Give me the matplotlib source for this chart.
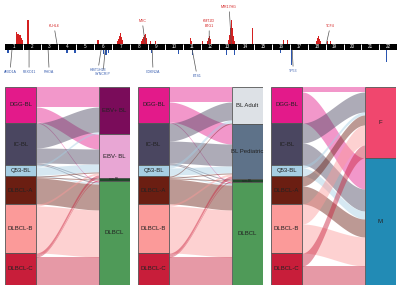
import numpy as np
import matplotlib.pyplot as plt

plt.rcParams['font.family'] = ['Liberation Sans', 'DejaVu Sans']

# ---- copy number profile (genome position in chromosome units, frequency) ----
chroms = [str(i) for i in range(1, 23)]
gain_pos = [0.62, 0.67, 0.73, 0.79, 0.84, 0.90, 0.96, 1.24, 1.29, 5.22,
            6.29, 6.35, 6.40, 6.46, 6.52, 6.57,
            7.64, 7.70, 7.75, 7.81, 7.87, 7.92, 8.15, 8.43,
            10.39, 10.45, 11.07, 11.35, 11.40, 11.46, 11.52,
            12.53, 12.58, 12.64, 12.70, 12.75, 12.81, 12.87,
            13.88, 15.62, 15.84, 17.47, 17.53, 17.58, 17.64, 17.70, 18.09, 18.26]
gain_freq = [8, 12, 10, 7, 9, 6, 4, 8, 24, 4,
             3, 5, 8, 11, 7, 4,
             3, 5, 7, 9, 10, 6, 3, 3,
             6, 3, 3, 3, 6, 8, 5,
             4, 9, 16, 24, 16, 8, 3,
             16, 4, 4, 3, 6, 8, 5, 3, 3, 3]
loss_pos = [0.17, 3.48, 3.93, 5.51, 5.67, 5.79, 8.20, 9.72, 10.51,
            12.42, 12.87, 15.45, 16.07, 21.40]
loss_freq = [3, 3, 3, 4, 5, 3, 3, 4, 5, 5, 5, 3, 15, 12]

gene_names = ["ARID1A", "FBXO11", "RHOA", "KLHL6", "HIST1H1E", "SYNCRIP", "MYC",
              "CDKN2A", "ETS1", "KMT2D\nBTG1", "MIR17HG", "TP53", "TCF4"]
gene_pos = [0.39, 1.35, 2.42, 2.92, 5.39, 5.62, 7.87, 8.26, 10.51, 11.46, 12.70, 16.12, 18.03]
gene_side = ["loss", "loss", "loss", "gain", "loss", "loss", "gain",
             "loss", "loss", "gain", "gain", "loss", "gain"]
label_pos = [0.28, 1.35, 2.48, 2.75, 5.22, 5.50, 7.70, 8.31, 10.78, 11.46, 12.58, 16.18, 18.26]
label_y = [-23, -23, -23, 19, -21, -25, 24, -23, -27, 19, 38, -22, 19]

# ---- alluvial data ----
subtypes = ["DGG-BL", "IC-BL", "Q53-BL", "DLBCL-A", "DLBCL-B", "DLBCL-C"]
subtype_colors = ["#e31a8a", "#4a4660", "#a6cee3", "#6b1e12", "#fb9a99", "#c81e3a"]

ebv_names = ["EBV+ BL", "EBV- BL", "non-BL", "DLBCL"]
ebv_colors = ["#7a0c5a", "#e8a6d4", "#1f4a2a", "#4f9a58"]
ebv_counts = [[20, 15, 0, 1],
              [25, 15, 1, 1],
              [2, 8, 0, 1],
              [0, 1, 1, 26],
              [0, 2, 0, 47],
              [0, 3, 1, 28]]

age_names = ["BL Adult", "BL Pediatric", "non-BL", "DLBCL"]
age_colors = ["#dde1e6", "#5e7289", "#1f4a2a", "#4f9a58"]
age_counts = [[15, 20, 0, 1],
              [18, 22, 1, 1],
              [3, 7, 0, 1],
              [1, 1, 1, 25],
              [0, 2, 0, 47],
              [0, 3, 1, 28]]

sex_names = ["F", "M"]
sex_colors = ["#f0476e", "#228bb5"]
sex_counts = [[5, 31],
              [20, 22],
              [3, 8],
              [10, 18],
              [20, 29],
              [13, 19]]


def alluvial(ax, left_names, left_colors, right_names, right_colors, counts):
    counts = np.array(counts)
    bw = 0.25
    left_tot = counts.sum(axis=1)
    right_tot = counts.sum(axis=0)
    left_top = np.concatenate([[0], np.cumsum(left_tot)[:-1]])
    right_top = np.concatenate([[0], np.cumsum(right_tot)[:-1]])

    xs = np.linspace(bw, 1 - bw, 60)
    t = (xs - bw) / (1 - 2 * bw)
    s = t * t * (3 - 2 * t)

    right_off = right_top.astype(float).copy()
    for i in range(len(left_names)):
        off = left_top[i]
        for j in range(len(right_names)):
            c = counts[i, j]
            if c == 0:
                continue
            ro = right_off[j]
            y1 = off + (ro - off) * s
            y2 = y1 + c
            ax.fill_between(xs, y1, y2, color=left_colors[i], alpha=0.45, lw=0)
            off += c
            right_off[j] += c

    ax.bar([bw / 2] * len(left_names), left_tot, bottom=left_top, width=bw,
           color=left_colors, edgecolor="#555555", linewidth=0.6)
    ax.bar([1 - bw / 2] * len(right_names), right_tot, bottom=right_top, width=bw,
           color=right_colors, edgecolor="#555555", linewidth=0.6)
    for name, top, h in zip(left_names, left_top, left_tot):
        ax.text(bw / 2, top + h / 2, name, fontsize=4.3, ha="center", va="center", color="#222222")
    for name, top, h in zip(right_names, right_top, right_tot):
        fs = 2.5 if h < 6 else 4.3
        ax.text(1 - bw / 2, top + h / 2, name, fontsize=fs, ha="center", va="center", color="#222222")
    ax.set_xlim(0, 1)
    ax.set_ylim(left_tot.sum(), 0)
    ax.axis("off")


fig = plt.figure(figsize=(4, 3), dpi=100)

# top genome panel
ax = fig.add_axes([5 / 400, 1 - 75 / 300, 392 / 400, 75 / 300])
ax.bar(np.arange(len(chroms)) + 0.5, 6, bottom=-3, width=1, color="black")
ax.vlines(np.arange(1, len(chroms)), -3, 3, color="white", lw=0.7)
for k, name in enumerate(chroms):
    ax.text(k + 0.5, 0, name, color="white", fontsize=3.3, ha="center", va="center")
ax.bar(gain_pos, gain_freq, bottom=3, width=0.06, color="#d42020")
ax.bar(loss_pos, [-v for v in loss_freq], bottom=-3, width=0.06, color="#2a55b0")
for name, gp, side, lp, ly in zip(gene_names, gene_pos, gene_side, label_pos, label_y):
    col = "#d42020" if side == "gain" else "#3a5fb0"
    base = 3 if side == "gain" else -3
    ax.annotate(name, xy=(gp, base), xytext=(lp, ly), fontsize=2.6, color=col,
                ha="center", va="bottom" if side == "gain" else "top",
                arrowprops=dict(arrowstyle="-", color="#555555", lw=0.5, shrinkA=0, shrinkB=0))
ax.set_xlim(0, 22)
ax.set_ylim(-28, 47)
ax.axis("off")

# alluvial panels
for x0, names, cols, cnt in [(5, ebv_names, ebv_colors, ebv_counts),
                             (138, age_names, age_colors, age_counts),
                             (271, sex_names, sex_colors, sex_counts)]:
    a = fig.add_axes([x0 / 400, 15 / 300, 125 / 400, 198 / 300])
    alluvial(a, subtypes, subtype_colors, names, cols, cnt)

fig.savefig("out.png", dpi=100)
